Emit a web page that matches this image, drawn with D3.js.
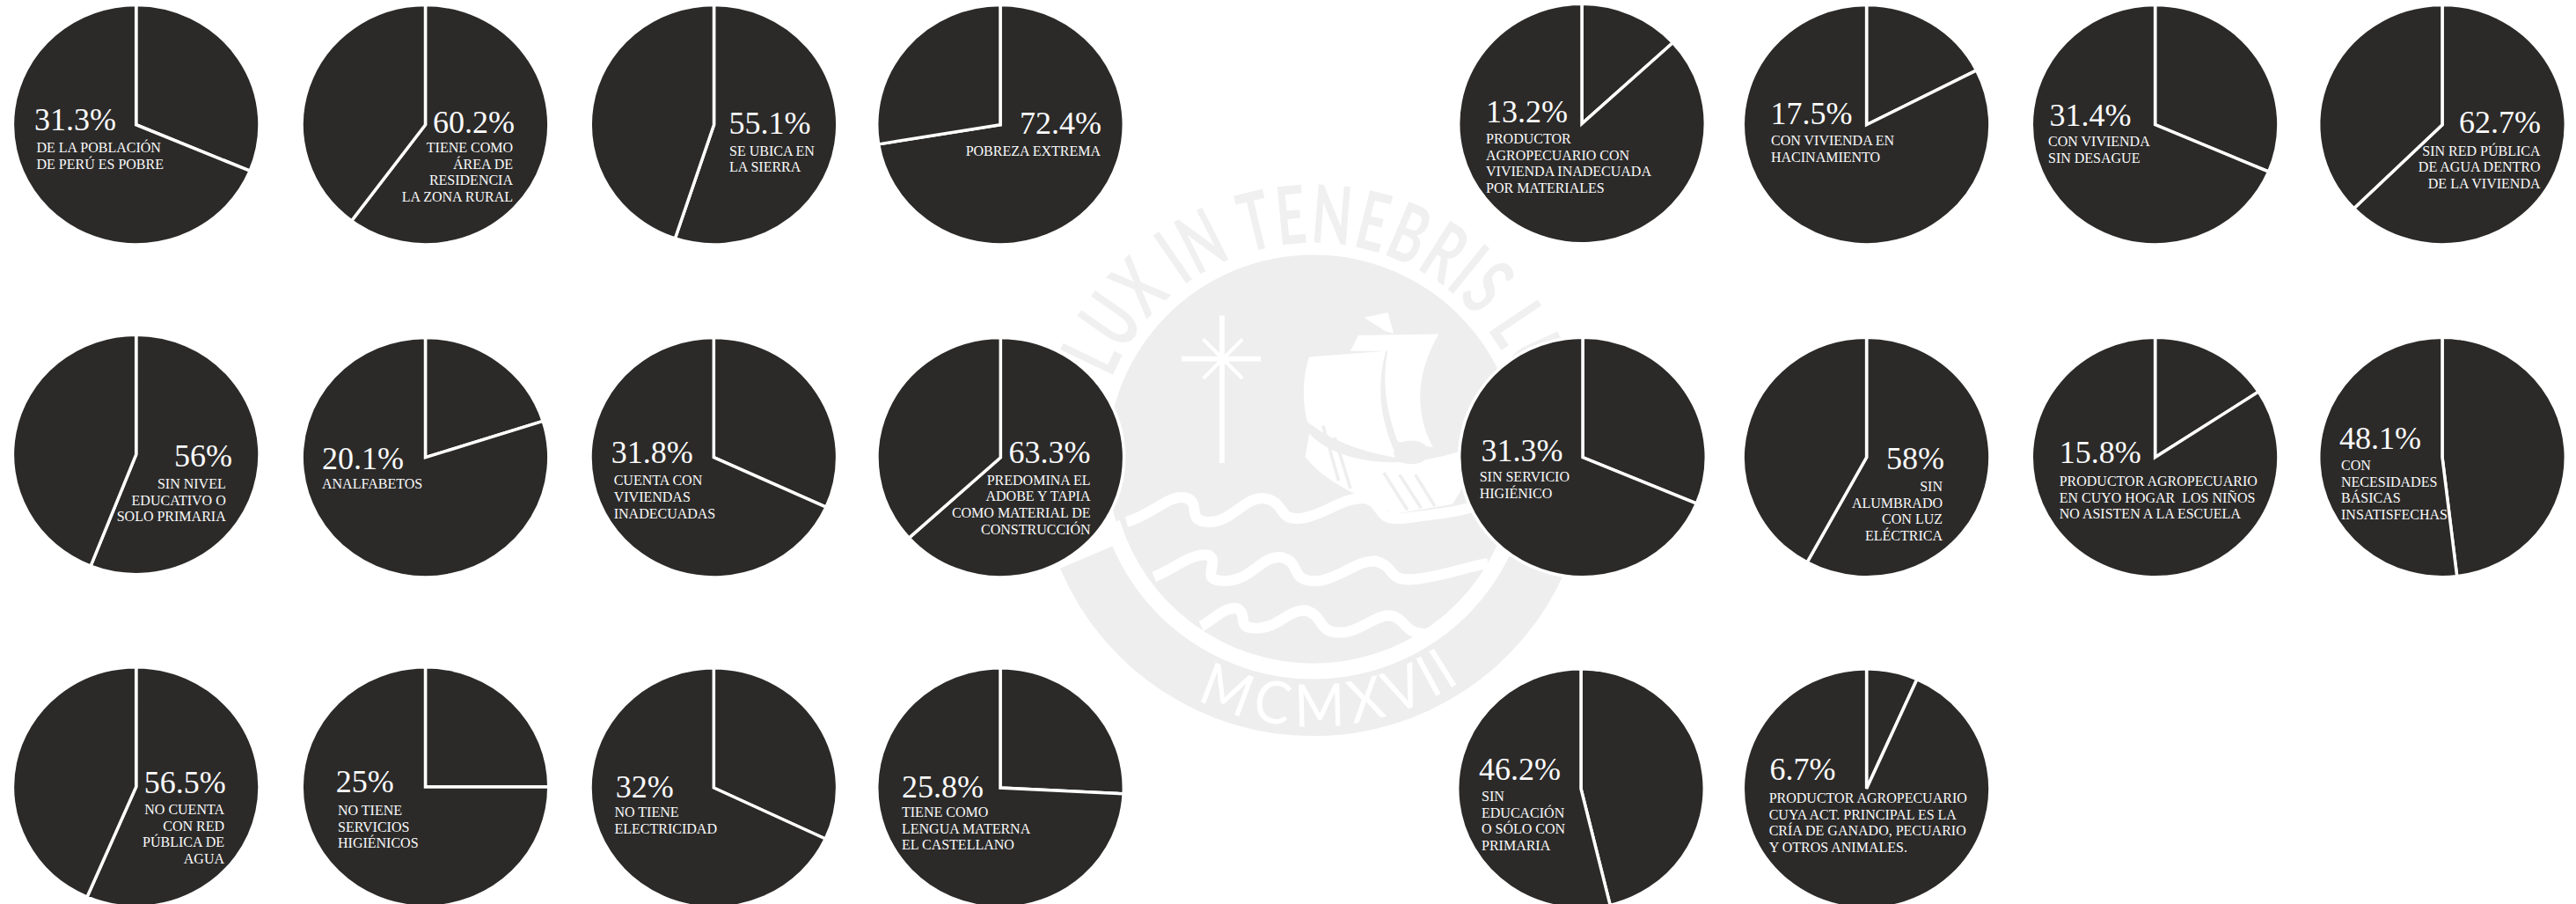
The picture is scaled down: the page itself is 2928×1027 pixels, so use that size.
<!DOCTYPE html>
<html>
<head>
<meta charset="utf-8">
<script src="https://d3js.org/d3.v7.min.js"></script>
<style>
   html, body { margin: 0; padding: 0; background: #fff; overflow: hidden; }
   svg { display: block; }
   text { font-family: "Liberation Serif", serif; fill: #fbfbfb; white-space: pre; }
   .watermark text { font-family: Lato, sans-serif; font-weight: 400; }
</style>
</head>
<body>
<figure style="margin:0"></figure>
<script>
// Chart values (percent, clockwise from 12 o'clock).
const values = [
   31.3, 60.2, 55.1, 72.4, 13.2, 17.5, 31.4, 62.7,
   56, 20.1, 31.8, 63.3, 31.3, 58, 15.8, 48.1,
   56.5, 25, 32, 25.8, 46.2, 6.7
];

const valueLabels = [
   "31.3%", "60.2%", "55.1%", "72.4%", "13.2%", "17.5%", "31.4%", "62.7%",
   "56%", "20.1%", "31.8%", "63.3%", "31.3%", "58%", "15.8%", "48.1%",
   "56.5%", "25%", "32%", "25.8%", "46.2%", "6.7%"
];

const descriptions = [
   ["DE LA POBLACIÓN", "DE PERÚ ES POBRE"],
   ["TIENE COMO", "ÁREA DE", "RESIDENCIA", "LA ZONA RURAL"],
   ["SE UBICA EN", "LA SIERRA"],
   ["POBREZA EXTREMA"],
   ["PRODUCTOR", "AGROPECUARIO CON", "VIVIENDA INADECUADA", "POR MATERIALES"],
   ["CON VIVIENDA EN", "HACINAMIENTO"],
   ["CON VIVIENDA", "SIN DESAGUE"],
   ["SIN RED PÚBLICA", "DE AGUA DENTRO", "DE LA VIVIENDA"],
   ["SIN NIVEL", "EDUCATIVO O", "SOLO PRIMARIA"],
   ["ANALFABETOS"],
   ["CUENTA CON", "VIVIENDAS", "INADECUADAS"],
   ["PREDOMINA EL", "ADOBE Y TAPIA", "COMO MATERIAL DE", "CONSTRUCCIÓN"],
   ["SIN SERVICIO", "HIGIÉNICO"],
   ["SIN", "ALUMBRADO", "CON LUZ", "ELÉCTRICA"],
   ["PRODUCTOR AGROPECUARIO", "EN CUYO HOGAR  LOS NIÑOS", "NO ASISTEN A LA ESCUELA"],
   ["CON", "NECESIDADES", "BÁSICAS", "INSATISFECHAS"],
   ["NO CUENTA", "CON RED", "PÚBLICA DE", "AGUA"],
   ["NO TIENE", "SERVICIOS", "HIGIÉNICOS"],
   ["NO TIENE", "ELECTRICIDAD"],
   ["TIENE COMO", "LENGUA MATERNA", "EL CASTELLANO"],
   ["SIN", "EDUCACIÓN", "O SÓLO CON", "PRIMARIA"],
   ["PRODUCTOR AGROPECUARIO", "CUYA ACT. PRINCIPAL ES LA", "CRÍA DE GANADO, PECUARIO", "Y OTROS ANIMALES."]
];

// Page layout, kept apart from the values: [pie cx, pie cy].
const centres = [
   [154.7, 141.7], [483.5, 141.7], [811.5, 141.7], [1137, 141.7],
   [1798, 140.5], [2121.6, 141.7], [2449.6, 141.7], [2776, 141.7],
   [154.7, 516.4], [483.5, 519.7], [811.3, 519.7], [1137.3, 519.7],
   [1799, 519.5], [2121.6, 519.5], [2449.6, 519.5], [2776, 519.5],
   [154.7, 894], [483.5, 894], [811.3, 895], [1137, 895],
   [1797, 896], [2121.6, 896]
];

// [anchor, value x, value baseline, label x, first label baseline]
const textSpots = [
   ["start", 39, 147.7, 41.5, 173], ["end", 585, 151, 583, 173],
   ["start", 828.6, 152, 829, 176.7], ["end", 1252, 152, 1251, 176.7],
   ["start", 1689, 139, 1689, 163], ["start", 2012.5, 141, 2013, 165],
   ["start", 2329.6, 142.7, 2328, 166], ["end", 2888, 151, 2887.5, 176.7],
   ["end", 264, 530, 256.7, 555], ["start", 366, 533, 366, 555],
   ["start", 694.8, 525.8, 697.7, 551.4], ["end", 1239.5, 526, 1239.5, 550.5],
   ["start", 1683.5, 524, 1681.7, 547], ["end", 2210, 533, 2208, 558],
   ["start", 2340.7, 526, 2340.7, 552], ["start", 2659, 510, 2661, 534],
   ["end", 256.7, 901, 255, 925], ["start", 381.7, 900, 384, 926],
   ["start", 699.8, 906, 698.5, 928], ["start", 1025, 906, 1025, 928],
   ["start", 1681, 886, 1684, 910], ["start", 2011.6, 886, 2010.7, 912]
];

const width = 2928, height = 1027;
const radiusX = 138.5, radiusY = 134.5;
const strokeWidth = 3.5;
const lineGap = 18.7;

const svg = d3.select("figure")
   .append("svg")
   .attr("width", width)
   .attr("height", height);

svg.append("rect")
   .attr("width", width)
   .attr("height", height)
   .attr("fill", "#fff");

drawWatermark();
drawPies();


function drawPies() {
   let pie = d3.pie().sort(null).value(function(d) { return d; });
   let arc = d3.arc().innerRadius(0).outerRadius(radiusY + strokeWidth / 2);

   let groups = svg.selectAll(".pie")
      .data(values)
      .enter()
      .append("g")
      .attr("class", "pie");

   // The source picture is stretched a little wider than tall.
   groups.append("g")
      .attr("transform", function(d, i) {
         return "translate(" + centres[i][0] + "," + centres[i][1] + ") scale(" + radiusX / radiusY + ",1)";
      })
      .selectAll("path")
      .data(function(d) { return pie([d, 100 - d]); })
      .enter()
      .append("path")
      .attr("d", arc)
      .attr("fill", "#2b2a29")
      .attr("stroke", "#fff")
      .attr("stroke-width", strokeWidth)
      .attr("vector-effect", "non-scaling-stroke");

   groups.append("text")
      .attr("x", function(d, i) { return textSpots[i][1]; })
      .attr("y", function(d, i) { return textSpots[i][2]; })
      .attr("text-anchor", function(d, i) { return textSpots[i][0]; })
      .attr("font-size", 36)
      .text(function(d, i) { return valueLabels[i]; });

   groups.each(function(d, i) {
      d3.select(this).selectAll(".line")
         .data(descriptions[i])
         .enter()
         .append("text")
         .attr("class", "line")
         .attr("x", textSpots[i][3])
         .attr("y", function(line, j) { return textSpots[i][4] + j * lineGap; })
         .attr("text-anchor", textSpots[i][0])
         .attr("font-size", 16)
         .text(function(line) { return line; });
   });
}


// University crest behind the pies. Coordinates are in a 2.24x working space.
function drawWatermark() {
   const grey = "#eeeeee";
   const cx = 745, cy = 770;
   let mark = svg.append("g")
      .attr("class", "watermark")
      .attr("transform", "translate(1160,180) scale(" + 1 / 2.24 + ")");

   // Lower band that carries the year.
   let band = d3.arc().innerRadius(555).outerRadius(700)
      .startAngle(113 * Math.PI / 180).endAngle(247 * Math.PI / 180);
   mark.append("path")
      .attr("transform", "translate(" + cx + "," + cy + ")")
      .attr("d", band())
      .attr("fill", grey);

   mark.append("circle")
      .attr("cx", cx).attr("cy", cy).attr("r", 525)
      .attr("fill", grey);

   curvedLetters(mark, "LUX IN TENEBRIS LUCET", cx, cy, 555, -68, 97, "#f0f0f0", 1);
   curvedLetters(mark, "MCMXVII", cx, cy, 675, -27, 34, "#fff", -1);

   // Star
   let star = [[513, 400, 513, 775], [410, 510, 612, 510], [465, 460, 565, 560], [565, 460, 465, 560]];
   mark.selectAll(".star")
      .data(star)
      .enter()
      .append("line")
      .attr("x1", function(d) { return d[0]; })
      .attr("y1", function(d) { return d[1]; })
      .attr("x2", function(d) { return d[2]; })
      .attr("y2", function(d) { return d[3]; })
      .attr("stroke", "#fff")
      .attr("stroke-width", function(d, i) { return i < 2 ? 13 : 9; });

   // Ship
   let ship = [
      "M875,405 L935,392 L950,445 L930,440 Z",
      "M860,450 L1065,447 C1010,540 1000,640 1050,735 L960,720 C930,640 920,560 935,490 L840,490 Z",
      "M735,505 L930,490 C900,600 925,690 960,762 C880,750 790,720 730,670 C715,610 720,550 735,505 Z",
      "M735,700 C800,770 950,800 1120,745 L1130,830 L1100,880 L950,905 C880,860 790,840 725,760 Z"
   ];
   mark.selectAll(".ship")
      .data(ship)
      .enter()
      .append("path")
      .attr("d", function(d) { return d; })
      .attr("fill", "#fff");

   mark.append("ellipse")
      .attr("cx", 995).attr("cy", 748).attr("rx", 45).attr("ry", 30)
      .attr("fill", grey);

   let planks = [[770, 680, 810, 820], [800, 710, 840, 840], [925, 800, 985, 895], [965, 805, 1020, 890], [1005, 805, 1055, 885]];
   mark.selectAll(".plank")
      .data(planks)
      .enter()
      .append("line")
      .attr("x1", function(d) { return d[0]; })
      .attr("y1", function(d) { return d[1]; })
      .attr("x2", function(d) { return d[2]; })
      .attr("y2", function(d) { return d[3]; })
      .attr("stroke", grey)
      .attr("stroke-width", 8);

   // Waves, and the white ring around the disc.
   let waves = [
      "M270,925 C340,905 380,850 425,865 C460,880 420,925 480,925 C540,925 570,860 620,865 C680,875 650,925 720,915 C780,905 820,860 880,865 C930,880 900,925 980,915 C1060,905 1120,900 1170,880",
      "M340,1065 C390,1045 440,1000 480,1010 C510,1030 450,1075 520,1075 C590,1075 610,1010 665,1015 C720,1030 680,1080 760,1075 C820,1065 860,1020 905,1025 C960,1040 930,1080 1010,1070 C1090,1060 1130,1040 1190,1030",
      "M460,1190 C490,1175 520,1140 550,1145 C585,1160 540,1200 610,1195 C660,1190 680,1150 725,1150 C780,1165 750,1215 830,1205 C880,1195 910,1155 950,1165 C990,1180 970,1215 1060,1210"
   ];
   mark.selectAll(".wave")
      .data(waves)
      .enter()
      .append("path")
      .attr("d", function(d) { return d; })
      .attr("fill", "none")
      .attr("stroke", "#fff")
      .attr("stroke-width", 27);

   let ring = d3.arc().innerRadius(515).outerRadius(550)
      .startAngle(107 * Math.PI / 180).endAngle(253 * Math.PI / 180);
   mark.append("path")
      .attr("transform", "translate(" + cx + "," + cy + ")")
      .attr("d", ring())
      .attr("fill", "#fff");
}


// Sets a string round a circle one letter at a time, spaced by letter width.
// direction 1 reads over the top, -1 reads along the bottom.
function curvedLetters(parent, word, cx, cy, radius, fromAngle, toAngle, colour, direction) {
   let fontSize = direction > 0 ? 205 : 150;
   let letters = parent.selectAll(null)
      .data(word.split(""))
      .enter()
      .append("text")
      .attr("font-size", fontSize)
      .attr("text-anchor", "middle")
      .style("fill", colour)
      .style("font-weight", direction > 0 ? 700 : 400)
      .text(function(d) { return d; });

   let widths = [];
   letters.each(function() { widths.push(this.getComputedTextLength()); });
   let total = d3.sum(widths);
   let angle = d3.scaleLinear().domain([0, total]).range([fromAngle, toAngle]);
   let squeeze = (toAngle - fromAngle) * Math.PI / 180 * radius / total * (direction > 0 ? 0.95 : 0.85);

   let used = 0;
   letters.attr("transform", function(d, i) {
      let a = angle(used + widths[i] / 2);
      used += widths[i];
      if (direction > 0) {
         return "translate(" + cx + "," + cy + ") rotate(" + a + ") translate(0," + -radius + ") scale(" + squeeze + ",1)";
      }
      return "translate(" + cx + "," + cy + ") rotate(" + -a + ") translate(0," + radius + ") scale(" + squeeze + ",1)";
   });
}
</script>
</body>
</html>
